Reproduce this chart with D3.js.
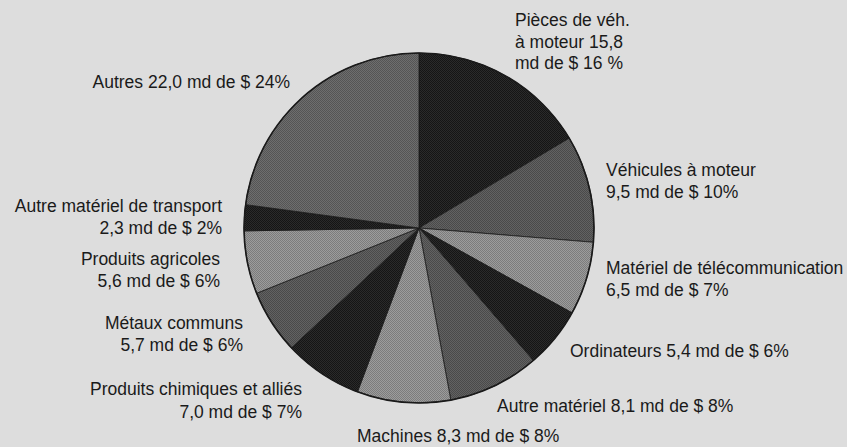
<!DOCTYPE html>
<html>
<head>
<meta charset="utf-8">
<script src="https://cdn.jsdelivr.net/npm/d3@7"></script>
<style>
  html, body { margin: 0; padding: 0; background: #dddddd; }
  svg { display: block; }
  text { font-family: "Liberation Sans", Arial, sans-serif; font-size: 17.5px; fill: #1a1a1a; }
</style>
</head>
<body>
<svg id="chart"></svg>
<script>
// slices, clockwise from 12 o'clock
const categories = ["Pièces de véh. à moteur", "Véhicules à moteur", "Matériel de télécommunication",
    "Ordinateurs", "Autre matériel", "Machines", "Produits chimiques et alliés",
    "Métaux communs", "Produits agricoles", "Autre matériel de transport", "Autres"];
const values = [15.8, 9.5, 6.5, 5.4, 8.1, 8.3, 7.0, 5.7, 5.6, 2.3, 22.0];
const shades = ["black", "dark", "light", "black", "dark", "light", "black", "dark", "light", "black", "mid"];

// label text lines, one entry per slice
const labels = [
    ["Pièces de véh.", "à moteur 15,8", "md de $ 16 %"],
    ["Véhicules à moteur", "9,5 md de $ 10%"],
    ["Matériel de télécommunication", "6,5 md de $ 7%"],
    ["Ordinateurs 5,4 md de $ 6%"],
    ["Autre matériel 8,1 md de $ 8%"],
    ["Machines 8,3 md de $ 8%"],
    ["Produits chimiques et alliés", "7,0 md de $ 7%"],
    ["Métaux communs", "5,7 md de $ 6%"],
    ["Produits agricoles", "5,6 md de $ 6%"],
    ["Autre matériel de transport", "2,3 md de $ 2%"],
    ["Autres 22,0 md de $ 24%"]
];

// where each label block sits (first line baseline), hand placed like the original
const labelPos = [
    { x: 515, y: 26, anchor: "start", lh: 21.5 },
    { x: 606, y: 176, anchor: "start", lh: 22 },
    { x: 606, y: 274, anchor: "start", lh: 22 },
    { x: 570, y: 357, anchor: "start", lh: 22 },
    { x: 497, y: 412, anchor: "start", lh: 22 },
    { x: 357, y: 442, anchor: "start", lh: 22 },
    { x: 302, y: 395, anchor: "end", lh: 23 },
    { x: 243, y: 329, anchor: "end", lh: 22 },
    { x: 220, y: 265, anchor: "end", lh: 22 },
    { x: 222, y: 212, anchor: "end", lh: 22 },
    { x: 290, y: 88, anchor: "end", lh: 22 }
];

const W = 847, H = 447;
const cx = 419, cy = 228, r = 175;

const svg = d3.select("#chart")
    .attr("width", W)
    .attr("height", H);

// halftone-ish fills: 2x2 checker of two tones
const tones = {
    black: ["#151515", "#2a2a2a"],
    dark:  ["#4a4a4a", "#626262"],
    light: ["#7c7c7c", "#9c9c9c"],
    mid:   ["#555555", "#6e6e6e"]
};
const defs = svg.append("defs");
Object.keys(tones).forEach(k => {
    const p = defs.append("pattern")
        .attr("id", "pat-" + k)
        .attr("width", 2).attr("height", 2)
        .attr("patternUnits", "userSpaceOnUse");
    p.append("rect").attr("width", 2).attr("height", 2).attr("fill", tones[k][0]);
    p.append("rect").attr("width", 1).attr("height", 1).attr("fill", tones[k][1]);
    p.append("rect").attr("x", 1).attr("y", 1).attr("width", 1).attr("height", 1).attr("fill", tones[k][1]);
});

const pie = d3.pie().sort(null).value(d => d)(values);
const arc = d3.arc().innerRadius(0).outerRadius(r);

const g = svg.append("g")
    .attr("transform", "translate(" + cx + "," + cy + ")");

g.selectAll("path")
    .data(pie)
    .enter().append("path")
    .attr("d", arc)
    .attr("fill", (d, i) => "url(#pat-" + shades[i] + ")")
    .attr("stroke", "#1a1a1a")
    .attr("stroke-width", 0.8)
    .attr("stroke-linejoin", "round");

g.append("circle")
    .attr("r", r)
    .attr("fill", "none")
    .attr("stroke", "#1a1a1a")
    .attr("stroke-width", 1.6);

const lab = svg.append("g");
labels.forEach((lines, i) => {
    const pos = labelPos[i];
    const t = lab.append("text")
        .attr("text-anchor", pos.anchor)
        .attr("x", pos.x)
        .attr("y", pos.y);
    lines.forEach((s, j) => {
        t.append("tspan")
            .attr("x", pos.x)
            .attr("dy", j === 0 ? 0 : pos.lh)
            .text(s);
    });
});
</script>
</body>
</html>
